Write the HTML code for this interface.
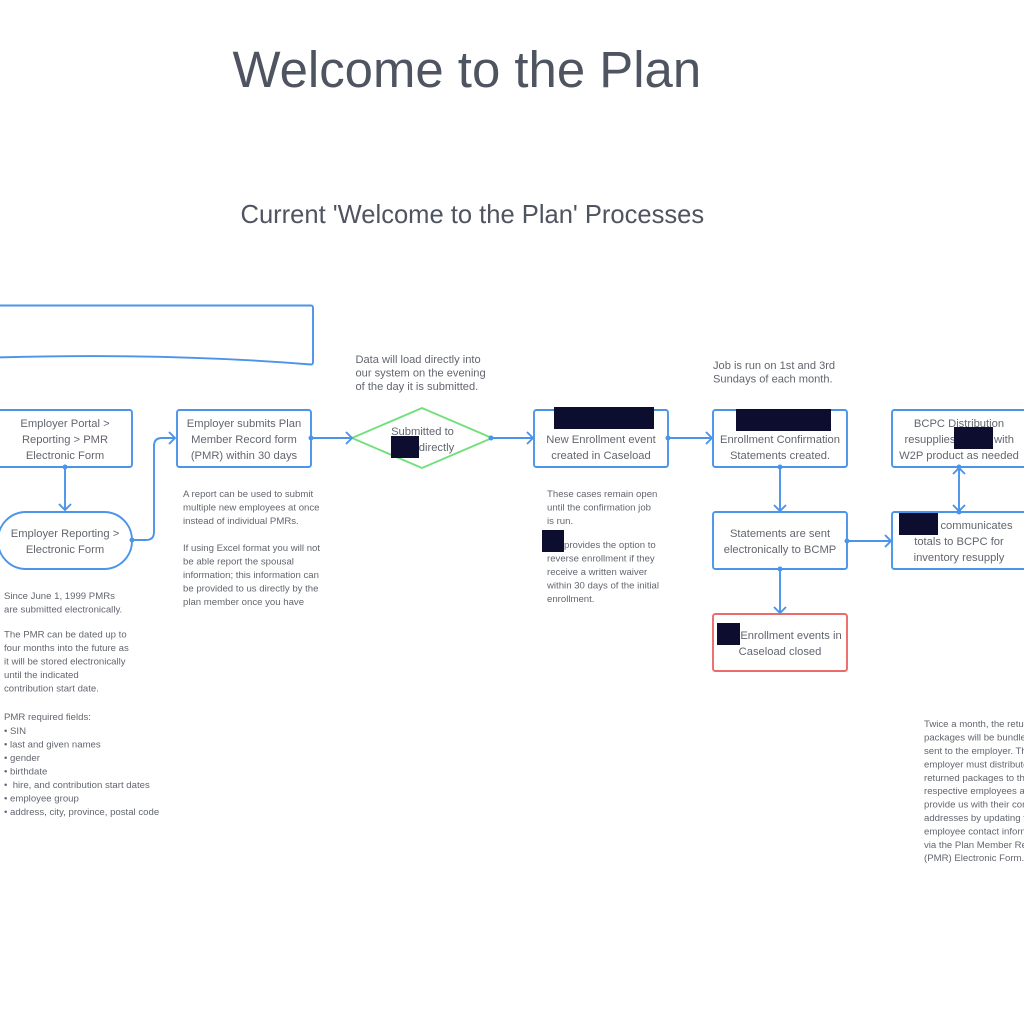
<!DOCTYPE html>
<html><head><meta charset="utf-8"><style>
html,body{margin:0;padding:0;background:#fff}
svg{display:block}
text{font-family:"Liberation Sans",sans-serif;fill:#62666f}
.b{font-size:11.2px;text-anchor:middle}
.n{font-size:9.6px}
.m{font-size:11.1px}
.s{fill:#fff;stroke:#4a94ea;stroke-width:1.9}
.l{fill:none;stroke:#4a94ea;stroke-width:1.9}
.d{fill:#4a94ea}
.r{fill:#0d0d30}
</style></head><body>
<svg width="1024" height="1024" viewBox="0 0 1024 1024" xmlns="http://www.w3.org/2000/svg">
<rect width="1024" height="1024" fill="#fff"/>
<text x="232.500" y="87" font-size="50.900" style="fill:#4f5461">Welcome to the Plan</text>
<text x="240.500" y="223" font-size="25.550" style="fill:#4f5461">Current 'Welcome to the Plan' Processes</text>

<path class="s" d="M-5 305.500H311a2 2 0 0 1 2 2V362.500a2 2 0 0 1-2 2C220 357 120 354 -5 357.500Z"/>

<rect class="s" x="-5" y="410" width="137" height="57" rx="2.500"/>
<rect class="s" x="177" y="410" width="134" height="57" rx="2.500"/>
<rect class="s" x="-2" y="512" width="134" height="57" rx="28"/>
<path d="M352 438 422 408 492 438 422 468Z" fill="#fff" stroke="#72e07a" stroke-width="1.900"/>
<rect class="s" x="534" y="410" width="134" height="57" rx="2.500"/>
<rect class="s" x="713" y="410" width="134" height="57" rx="2.500"/>
<rect class="s" x="713" y="512" width="134" height="57" rx="2.500"/>
<rect x="713" y="614" width="134" height="57" rx="2.500" fill="#fff" stroke="#ec6a6a" stroke-width="1.900"/>
<rect class="s" x="892" y="410" width="140" height="57" rx="2.500"/>
<rect class="s" x="892" y="512" width="140" height="57" rx="2.500"/>

<path class="l" d="M65 467V510M59 504 65 510 71 504"/>
<path class="l" d="M132 540H146Q154 540 154 532V446Q154 438 162 438H175M169 432 175 438 169 444"/>
<path class="l" d="M311 438H352M346 432 352 438 346 444"/>
<path class="l" d="M491 438H533M527 432 533 438 527 444"/>
<path class="l" d="M668 438H712M706 432 712 438 706 444"/>
<path class="l" d="M780 467V511M774 505 780 511 786 505"/>
<path class="l" d="M780 569V613M774 607 780 613 786 607"/>
<path class="l" d="M847 541H891M885 535 891 541 885 547"/>
<path class="l" d="M959 468V511M953 474 959 468 965 474M953 505 959 511 965 505"/>
<circle class="d" cx="65" cy="467" r="2.500"/>
<circle class="d" cx="132" cy="540" r="2.500"/>
<circle class="d" cx="311" cy="438" r="2.500"/>
<circle class="d" cx="491" cy="438" r="2.500"/>
<circle class="d" cx="668" cy="438" r="2.500"/>
<circle class="d" cx="780" cy="467" r="2.500"/>
<circle class="d" cx="780" cy="569" r="2.500"/>
<circle class="d" cx="847" cy="541" r="2.500"/>
<circle class="d" cx="959" cy="467" r="2.500"/>
<circle class="d" cx="959" cy="512" r="2.500"/>

<text class="b" x="65" y="427">Employer Portal &gt;</text>
<text class="b" x="65" y="443">Reporting &gt; PMR</text>
<text class="b" x="65" y="459">Electronic Form</text>
<text class="b" x="65" y="537">Employer Reporting &gt;</text>
<text class="b" x="65" y="553">Electronic Form</text>
<text class="b" x="244" y="427">Employer submits Plan</text>
<text class="b" x="244" y="443">Member Record form</text>
<text class="b" x="244" y="459">(PMR) within 30 days</text>
<text class="b" x="422.500" y="435">Submitted to</text>
<text class="b" x="436.500" y="451">directly</text>
<text class="b" x="601" y="443">New Enrollment event</text>
<text class="b" x="601" y="459">created in Caseload</text>
<text class="b" x="780" y="443">Enrollment Confirmation</text>
<text class="b" x="780" y="459">Statements created.</text>
<text class="b" x="780" y="537">Statements are sent</text>
<text class="b" x="780" y="553">electronically to BCMP</text>
<text class="b" x="791" y="639">Enrollment events in</text>
<text class="b" x="780" y="655">Caseload closed</text>
<text class="b" x="959" y="427">BCPC Distribution</text>
<text class="b" x="930" y="443">resupplies</text>
<text class="b" x="1004" y="443">with</text>
<text class="b" x="959" y="459">W2P product as needed</text>
<text class="b" x="976.500" y="529">communicates</text>
<text class="b" x="959" y="545">totals to BCPC for</text>
<text class="b" x="959" y="561">inventory resupply</text>

<text class="m" x="355.500" y="363">Data will load directly into</text>
<text class="m" x="355.500" y="376.500">our system on the evening</text>
<text class="m" x="355.500" y="390">of the day it is submitted.</text>
<text class="m" x="713" y="369">Job is run on 1st and 3rd</text>
<text class="m" x="713" y="382.500">Sundays of each month.</text>

<text class="n" x="183" y="497">A report can be used to submit</text>
<text class="n" x="183" y="510.500">multiple new employees at once</text>
<text class="n" x="183" y="524">instead of individual PMRs.</text>
<text class="n" x="183" y="551">If using Excel format you will not</text>
<text class="n" x="183" y="564.500">be able report the spousal</text>
<text class="n" x="183" y="578">information; this information can</text>
<text class="n" x="183" y="591.500">be provided to us directly by the</text>
<text class="n" x="183" y="605">plan member once you have</text>

<text class="n" x="4" y="599">Since June 1, 1999 PMRs</text>
<text class="n" x="4" y="612.500">are submitted electronically.</text>
<text class="n" x="4" y="637.500">The PMR can be dated up to</text>
<text class="n" x="4" y="651">four months into the future as</text>
<text class="n" x="4" y="664.500">it will be stored electronically</text>
<text class="n" x="4" y="678">until the indicated</text>
<text class="n" x="4" y="691.500">contribution start date.</text>
<text class="n" x="4" y="720">PMR required fields:</text>
<text class="n" x="4" y="734">• SIN</text>
<text class="n" x="4" y="747.500">• last and given names</text>
<text class="n" x="4" y="761">• gender</text>
<text class="n" x="4" y="774.500">• birthdate</text>
<text class="n" x="4" y="788">•&#160;&#160;hire, and contribution start dates</text>
<text class="n" x="4" y="801.500">• employee group</text>
<text class="n" x="4" y="815">• address, city, province, postal code</text>

<text class="n" x="547" y="497">These cases remain open</text>
<text class="n" x="547" y="510.500">until the confirmation job</text>
<text class="n" x="547" y="524">is run.</text>
<text class="n" x="564" y="548">provides the option to</text>
<text class="n" x="547" y="561.500">reverse enrollment if they</text>
<text class="n" x="547" y="575">receive a written waiver</text>
<text class="n" x="547" y="588.500">within 30 days of the initial</text>
<text class="n" x="547" y="602">enrollment.</text>

<text class="n" x="924" y="727">Twice a month, the returned</text>
<text class="n" x="924" y="740.500">packages will be bundled and</text>
<text class="n" x="924" y="754">sent to the employer. The</text>
<text class="n" x="924" y="767.500">employer must distribute the</text>
<text class="n" x="924" y="781">returned packages to their</text>
<text class="n" x="924" y="794">respective employees and</text>
<text class="n" x="924" y="807.500">provide us with their correct</text>
<text class="n" x="924" y="821">addresses by updating the</text>
<text class="n" x="924" y="834.500">employee contact information</text>
<text class="n" x="924" y="848">via the Plan Member Record</text>
<text class="n" x="924" y="861">(PMR) Electronic Form.</text>

<rect class="r" x="391" y="436" width="28" height="22"/>
<rect class="r" x="554" y="407" width="100" height="22"/>
<rect class="r" x="542" y="530" width="22" height="22"/>
<rect class="r" x="736" y="409" width="95" height="22"/>
<rect class="r" x="954" y="427" width="39" height="22"/>
<rect class="r" x="899" y="513" width="39" height="22"/>
<rect class="r" x="717" y="623" width="23" height="22"/>
</svg>
</body></html>
